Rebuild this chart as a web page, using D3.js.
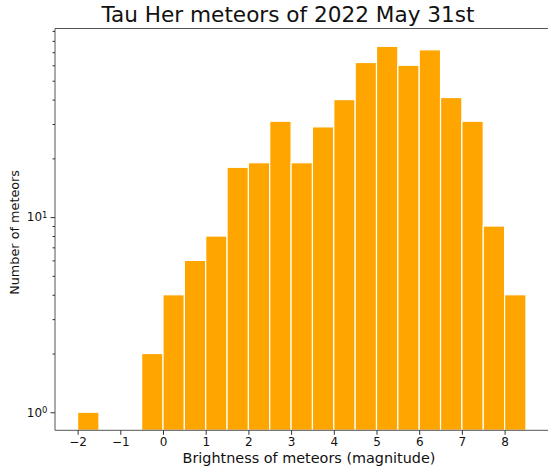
<!DOCTYPE html>
<html>
<head>
<meta charset="utf-8">
<script src="https://cdn.jsdelivr.net/npm/d3@7"></script>
<style>
  html, body { margin: 0; padding: 0; background: #fff; }
  svg { display: block; font-family: "DejaVu Sans", sans-serif; }
</style>
</head>
<body>
<div id="chart"></div>
<script>
// Left edges of the half-magnitude bins and their meteor counts
const binStarts = [-2, -0.5, 0, 0.5, 1, 1.5, 2, 2.5, 3, 3.5, 4, 4.5, 5, 5.5, 6, 6.5, 7, 7.5, 8];
const counts = [1, 2, 4, 6, 8, 18, 19, 31, 19, 29, 40, 62, 75, 60, 72, 41, 31, 9, 4];
const binWidth = 0.5;
const xTicks = [-2, -1, 0, 1, 2, 3, 4, 5, 6, 7, 8];
const yMajorTicks = [1, 10];
const yMinorTicks = [2, 3, 4, 5, 6, 7, 8, 9, 20, 30, 40, 50, 60, 70, 80, 90];

const width = 548, height = 468;
const plot = { left: 55, top: 28.5, right: 563, bottom: 430.3 };

const svg = d3.select('#chart')
  .append('svg')
  .attr('width', width)
  .attr('height', height);

// x: 0 sits at ~163px, one magnitude is ~42.7px
const x = d3.scaleLinear()
  .domain([(plot.left - 163) / 42.7, (plot.right - 163) / 42.7])
  .range([plot.left, plot.right]);

const y = d3.scaleLog()
  .domain([Math.pow(10, -0.0925), Math.pow(10, 1.9665)])
  .range([plot.bottom, plot.top]);

// Bars
svg.append('g')
  .selectAll('rect')
  .data(binStarts.map((s, i) => ({ start: s, count: counts[i] })))
  .enter()
  .append('rect')
  .attr('x', d => x(d.start))
  .attr('width', d => x(d.start + binWidth) - x(d.start))
  .attr('y', d => y(d.count))
  .attr('height', d => plot.bottom - y(d.count))
  .attr('fill', '#ffa500')
  .attr('stroke', '#fff')
  .attr('stroke-width', 1.2);

// Spines (left, top, bottom)
const spineColor = '#555';
svg.append('path')
  .attr('d', `M${plot.right},${plot.top}H${plot.left}V${plot.bottom}H${plot.right}`)
  .attr('fill', 'none')
  .attr('stroke', spineColor)
  .attr('stroke-width', 1);

// x axis
const xAxis = svg.append('g')
  .attr('transform', `translate(0,${plot.bottom})`)
  .call(d3.axisBottom(x)
    .tickValues(xTicks)
    .tickSize(4.5)
    .tickPadding(3)
    .tickFormat(d => d < 0 ? '\u2212' + Math.abs(d) : String(d)));
xAxis.select('.domain').remove();
xAxis.selectAll('line').attr('stroke', '#333');
xAxis.selectAll('text').attr('font-size', 12).attr('fill', '#111')
  .attr('font-family', '"DejaVu Sans", sans-serif');

// y axis, minor ticks
const yMinor = svg.append('g')
  .attr('transform', `translate(${plot.left},0)`)
  .call(d3.axisLeft(y).tickValues(yMinorTicks).tickSize(2.5).tickFormat(''));
yMinor.select('.domain').remove();
yMinor.selectAll('line').attr('stroke', '#333');

// y axis, major ticks with 10^n labels
const yMajor = svg.append('g')
  .attr('transform', `translate(${plot.left},0)`)
  .call(d3.axisLeft(y).tickValues(yMajorTicks).tickSize(4.5).tickPadding(3).tickFormat(''));
yMajor.select('.domain').remove();
yMajor.selectAll('line').attr('stroke', '#333');
yMajor.selectAll('.tick').each(function(d) {
  const t = d3.select(this).select('text')
    .attr('font-size', 12)
    .attr('fill', '#111')
    .attr('font-family', '"DejaVu Sans", sans-serif');
  t.text('');
  t.append('tspan').text('10');
  t.append('tspan')
    .attr('dy', '-0.45em')
    .attr('font-size', 8.5)
    .text(Math.round(Math.log10(d)));
});

// Title and axis labels
svg.append('text')
  .attr('x', 288)
  .attr('y', 22)
  .attr('text-anchor', 'middle')
  .attr('font-size', 21.6)
  .attr('fill', '#111')
  .text('Tau Her meteors of 2022 May 31st');

svg.append('text')
  .attr('x', 309)
  .attr('y', 463)
  .attr('text-anchor', 'middle')
  .attr('font-size', 14.4)
  .attr('fill', '#111')
  .text('Brightness of meteors (magnitude)');

svg.append('text')
  .attr('transform', `translate(19,${(plot.top + plot.bottom) / 2 + 3}) rotate(-90)`)
  .attr('text-anchor', 'middle')
  .attr('font-size', 12.8)
  .attr('fill', '#111')
  .text('Number of meteors');
</script>
</body>
</html>
